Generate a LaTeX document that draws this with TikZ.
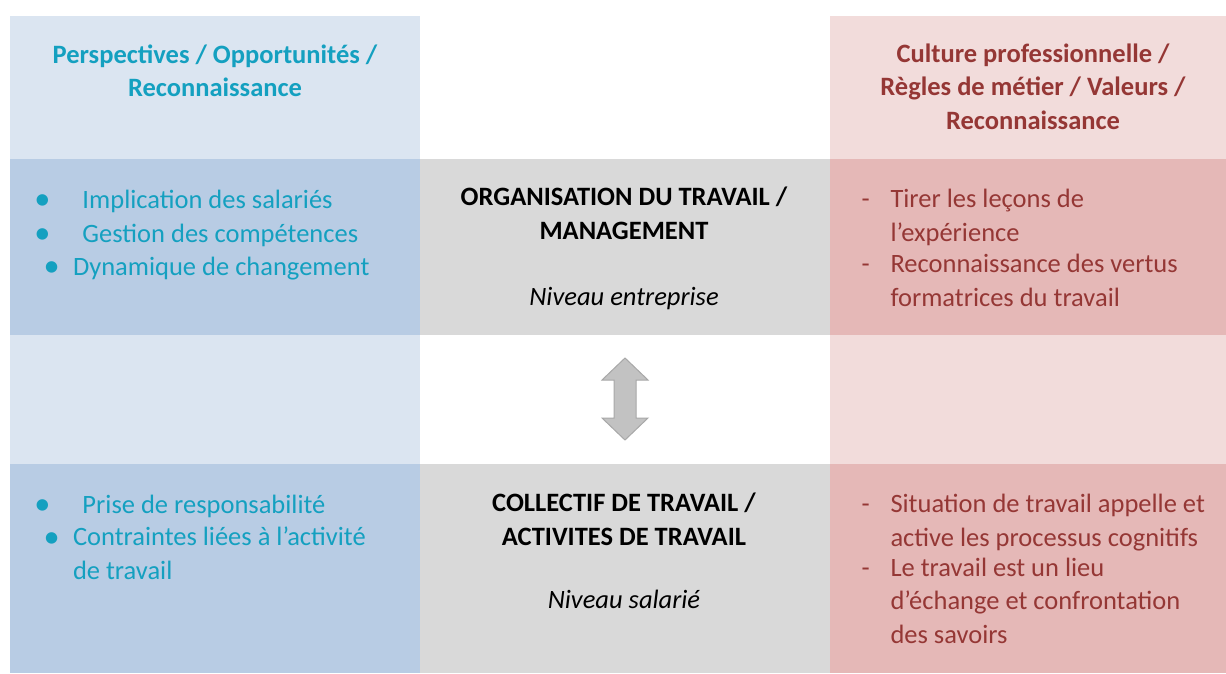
\documentclass[tikz,border=0pt]{standalone}
\usepackage{fontspec}
\setmainfont{Carlito}
\definecolor{lblue}{HTML}{DBE5F1}
\definecolor{mblue}{HTML}{B8CCE4}
\definecolor{lpink}{HTML}{F2DCDB}
\definecolor{mpink}{HTML}{E5B8B7}
\definecolor{cgray}{HTML}{D9D9D9}
\definecolor{teal}{HTML}{14A0C0}
\definecolor{dred}{HTML}{953735}
\definecolor{agray}{HTML}{C2C2C2}
\definecolor{agrayd}{HTML}{A8A8A8}
\newcommand{\bigbul}{\raisebox{-0.7pt}{\scalebox{1.22}{•}}}
\begin{document}
\begin{tikzpicture}[x=0.4pt,y=-0.4pt,
  txt/.style={inner sep=0pt, font=\fontsize{10.6}{13.3}\selectfont},
  item/.style={txt, anchor=base west, align=left},
  head/.style={txt, anchor=base, align=center, font=\fontsize{10.6}{13.3}\selectfont\bfseries},
  lvl/.style={txt, anchor=base, align=center, font=\fontsize{10.6}{13.3}\selectfont\itshape}]
\useasboundingbox (0,0) rectangle (1226,673);
% cells
\fill[lblue] (10,16) rectangle (420,159);
\fill[mblue] (10,159) rectangle (420,335);
\fill[lblue] (10,335) rectangle (420,464);
\fill[mblue] (10,464) rectangle (420,673);
\fill[cgray] (420,159) rectangle (830,335);
\fill[cgray] (420,464) rectangle (830,673);
\fill[lpink] (830,16) rectangle (1226,159);
\fill[mpink] (830,159) rectangle (1226,335);
\fill[lpink] (830,335) rectangle (1226,464);
\fill[mpink] (830,464) rectangle (1226,673);
% headers (anchor = baseline of last line)
\node[head, text=teal] (hl) at (215,96.5) {Perspectives / Opportunités /\\Reconnaissance};
\node[head, text=dred] (hr) at (1033,129) {Culture professionnelle /\\Règles de métier / Valeurs /\\Reconnaissance};
% middle
\node[head] (org) at (624,239) {ORGANISATION DU TRAVAIL /\\MANAGEMENT};
\node[lvl] (ne) at (624,305) {Niveau entreprise};
\node[head] (col) at (624,545) {COLLECTIF DE TRAVAIL /\\ACTIVITES DE TRAVAIL};
\node[lvl] (ns) at (624,608) {Niveau salarié};
% left lists
\node[item, text=teal] (l1) at (34,208) {\makebox[19.2pt][l]{\bigbul}Implication des salariés};
\node[item, text=teal] (l2) at (34,242) {\makebox[19.2pt][l]{\bigbul}Gestion des compétences};
\node[item, text=teal] (l3) at (43,275) {\makebox[11.8pt][l]{\bigbul}Dynamique de changement};
\node[item, text=teal] (l4) at (34,513) {\makebox[19.2pt][l]{\bigbul}Prise de responsabilité};
\node[item, text=teal] (l5) at (43,579) {\makebox[11.8pt][l]{\bigbul}Contraintes liées à l’activité\\\hspace*{11.8pt}de travail};
% right lists
\node[item, text=dred] (r1) at (861,241) {\makebox[11.6pt][l]{-}Tirer les leçons de\\\hspace*{11.6pt}l’expérience};
\node[item, text=dred] (r2) at (861,306) {\makebox[11.6pt][l]{-}Reconnaissance des vertus\\\hspace*{11.6pt}formatrices du travail};
\node[item, text=dred] (r3) at (861,546) {\makebox[11.6pt][l]{-}Situation de travail appelle et\\\hspace*{11.6pt}active les processus cognitifs};
\node[item, text=dred] (r4) at (861,643) {\makebox[11.6pt][l]{-}Le travail est un lieu\\\hspace*{11.6pt}d’échange et confrontation\\\hspace*{11.6pt}des savoirs};
% double arrow
\filldraw[fill=agray, draw=agrayd, line width=0.4pt, line join=miter]
  (625,358) -- (648,380) -- (636,380) -- (636,418) -- (648,418) -- (625,440)
  -- (602,418) -- (614,418) -- (614,380) -- (602,380) -- cycle;
\end{tikzpicture}
\end{document}
